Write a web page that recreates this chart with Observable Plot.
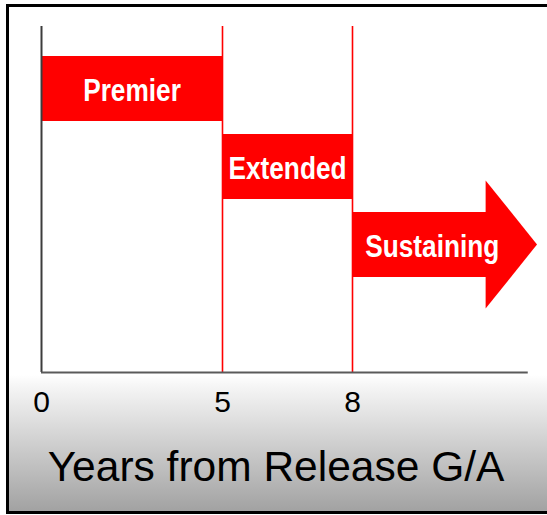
<!DOCTYPE html>
<html>
<head>
<meta charset="utf-8">
<script src="https://cdn.jsdelivr.net/npm/d3@7"></script>
<script src="https://cdn.jsdelivr.net/npm/@observablehq/plot@0.6"></script>
<style>
  html, body { margin: 0; padding: 0; background: #fff; }
  #wrap { position: relative; width: 547px; height: 515px; overflow: hidden; }
  #panel {
    position: absolute; left: 6px; top: 4px; width: 570px; height: 504px;
    border: 3px solid #000;
    background: linear-gradient(to bottom, #fff 0px, #fff 368px, #f6f6f6 378px, #a2a2a2 504px);
  }
  #chart { position: absolute; left: 0; top: 0; }
</style>
</head>
<body>
<div id="wrap"><div id="panel"></div><div id="chart"></div></div>
<script>
// ---- data ----
const phases = ["Premier", "Extended", "Sustaining"];
const phaseStart = [0, 5, 8];          // years from release G/A
const phaseEnd = [5, 8, 12];            // Sustaining is open-ended (arrow tip)
const arrowShaftEnd = 10.9;             // where the Sustaining arrow head begins
const axisEnd = 11.8;                   // end of the x-axis line
const tickValues = [0, 5, 8];
const tickLabels = ["0", "5", "8"];
const xTitle = "Years from Release G/A";

const rows = phases.map((p, i) => ({
  phase: p,
  start: phaseStart[i],
  end: phaseEnd[i],
  open: i === phases.length - 1
}));
rows.forEach(r => {
  r.barEnd = r.open ? arrowShaftEnd : r.end;
  r.labelX = r.open ? (r.start + (arrowShaftEnd + r.end) / 2) / 2 : (r.start + r.end) / 2;
});
const boundaries = rows.filter(r => !r.open).map(r => r.end);

// ---- layout ----
const W = 547, H = 515;
const mt = 26, mb = H - 372, ml = 41, mr = 10;
const frameMid = (mt + (H - mb)) / 2;

const red = "#ff0000";

const arrowHead = (index, scales) => {
  const x = scales.x, y = scales.y;
  const bw = typeof y.bandwidth === "function" ? y.bandwidth() : y.bandwidth;
  const r = rows.find(d => d.open);
  const cy = y(r.phase) + bw / 2;
  const x0 = x(arrowShaftEnd), x1 = x(r.end);
  const path = document.createElementNS("http://www.w3.org/2000/svg", "path");
  path.setAttribute("d", `M${x0 - 0.5},${cy - bw + 1}L${x1},${cy}L${x0 - 0.5},${cy + bw - 1}Z`);
  path.setAttribute("fill", red);
  return path;
};

const chart = Plot.plot({
  width: W,
  height: H,
  marginTop: mt,
  marginBottom: mb,
  marginLeft: ml,
  marginRight: mr,
  style: { background: "transparent", overflow: "visible", fontFamily: "'Liberation Sans', Arial, sans-serif" },
  x: { type: "linear", domain: [0, 5, 8, 12], range: [ml, 222, 352, W - mr], axis: null },
  y: { type: "band", domain: phases, range: [55, 278], paddingInner: 0.168, paddingOuter: 0, axis: null },
  marks: [
    Plot.ruleX(boundaries, { stroke: red, strokeWidth: 1.6 }),
    Plot.barX(rows, { x1: "start", x2: "barEnd", y: "phase", fill: red }),
    arrowHead,
    Plot.ruleX([0], { stroke: "#3c3c3c", strokeWidth: 2 }),
    Plot.ruleY([{ a: 0, b: axisEnd }], { y: null, x1: "a", x2: "b", dy: (H - mb) - frameMid, stroke: "#5a5a5a", strokeWidth: 2 }),
    Plot.text(rows, {
      x: "labelX", y: "phase", text: "phase", fill: "#fff",
      fontSize: 32, fontWeight: "bold", dy: 2,
      fontFamily: "'Liberation Sans', Arial, sans-serif"
    }),
    Plot.text(tickValues, {
      x: d => d, text: d => tickLabels[tickValues.indexOf(d)],
      frameAnchor: "bottom", lineAnchor: "top", dy: 18, fontSize: 30, fill: "#000"
    }),
    Plot.text([xTitle], {
      frameAnchor: "bottom", lineAnchor: "middle", text: d => d,
      dx: -13.5, dy: 94.6, fontSize: 42.5, fill: "#000"
    })
  ]
});
// condense the bold phase labels (Arial Narrow look)
d3.select(chart).selectAll("text").filter(function () { return phases.includes(this.textContent); })
  .attr("transform", function () { return (this.getAttribute("transform") || "") + " scale(0.82,1)"; });
document.getElementById("chart").appendChild(chart);
</script>
</body>
</html>
